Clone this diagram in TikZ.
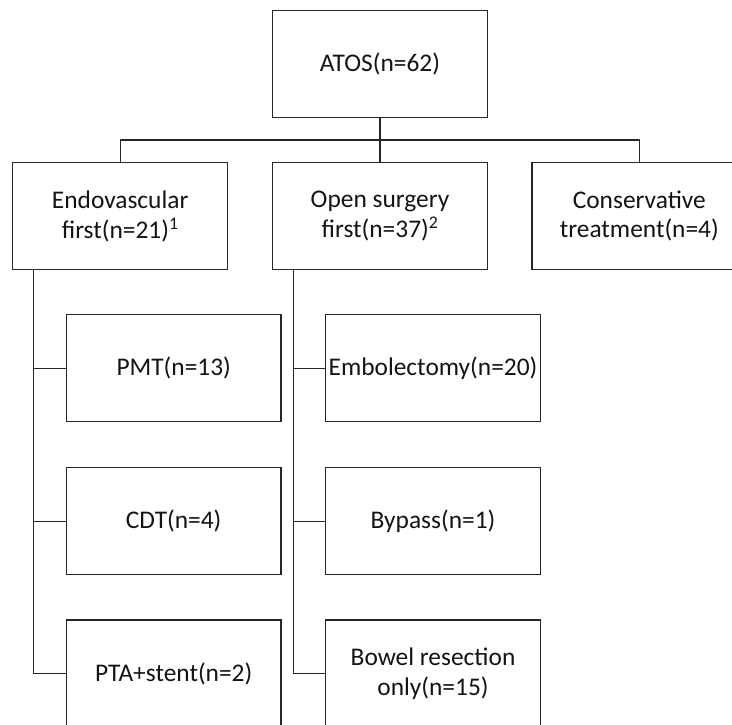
\documentclass[tikz,border=0pt]{standalone}
\usepackage{fontspec}
\setmainfont{Carlito}
\begin{document}
\begin{tikzpicture}[x=1bp,y=-1bp,
  box/.style={draw=black!85, line width=1.2bp, fill=white, minimum width=214.6bp, minimum height=107bp, align=center, inner sep=0pt, font=\fontsize{25.5}{30}\selectfont, text=black!92},
  conn/.style={draw=black!85, line width=1.2bp}]
\useasboundingbox (0,0) rectangle (732,725);
\clip (0,0) rectangle (732,725);
\fill[white] (0,0) rectangle (732,725);
\node[box] (atos) at (380,63.7) {ATOS(n=62)};
\node[box] (endo) at (120.2,216) {Endovascular\\first(n=21)\textsuperscript{1}};
\node[box] (open) at (380,216) {Open surgery\\first(n=37)\textsuperscript{2}};
\node[box] (cons) at (639.3,216) {Conservative\\treatment(n=4)};
\node[box] (pmt) at (173.7,368.2) {PMT(n=13)};
\node[box] (cdt) at (173.7,521.3) {CDT(n=4)};
\node[box] (pta) at (173.7,673.5) {PTA+stent(n=2)};
\node[box] (emb) at (433,368.2) {Embolectomy(n=20)};
\node[box] (byp) at (433,521.3) {Bypass(n=1)};
\node[box] (bow) at (433,673.5) {Bowel resection\\only(n=15)};
\coordinate (hub) at (380,140);
\coordinate (lv) at (33.7,269.3);
\coordinate (mv) at (293.5,269.3);
\draw[conn] (atos.south) -- (open.north);
\draw[conn] (endo.north) |- (hub) -| (cons.north);
\draw[conn] (lv) |- (pmt.west);
\draw[conn] (lv) |- (cdt.west);
\draw[conn] (lv) |- (pta.west);
\draw[conn] (mv) |- (emb.west);
\draw[conn] (mv) |- (byp.west);
\draw[conn] (mv) |- (bow.west);
\end{tikzpicture}
\end{document}
